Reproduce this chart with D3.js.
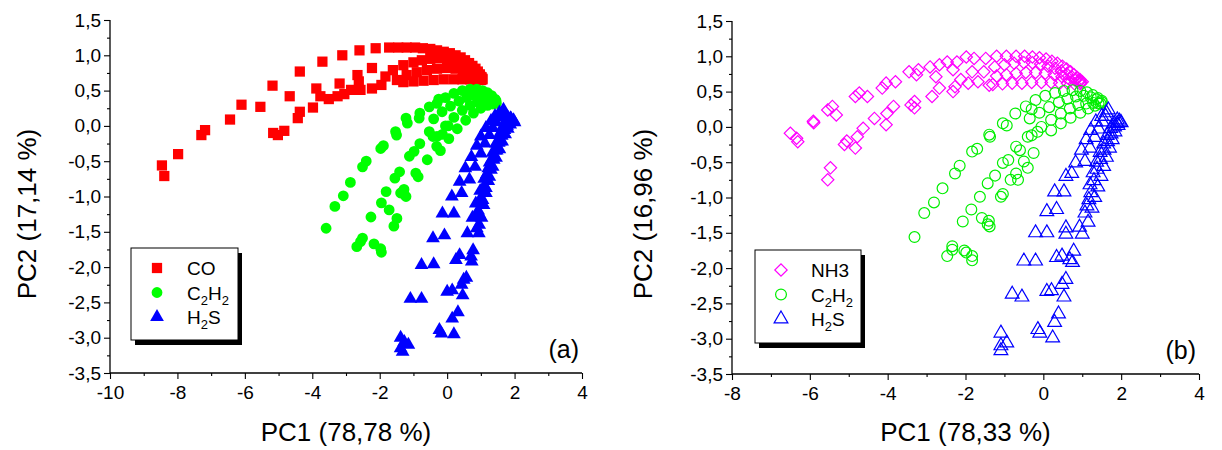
<!DOCTYPE html>
<html>
<head>
<meta charset="utf-8">
<script src="https://cdn.jsdelivr.net/npm/d3@7"></script>
<style>
  body { margin: 0; background: #fff; }
  svg { display: block; }
  text { font-family: Arial, "Liberation Sans", sans-serif; fill: #000; }
</style>
</head>
<body>
<svg id="chart" width="1222" height="450"></svg>
<script>
// ---- Score data (PC1, PC2) ----
// Panel (a): CO
const coScores = [
  [-8.46,-0.56],[-8.39,-0.71],[-7.98,-0.40],[-7.29,-0.13],[-7.18,-0.06],[-6.44,0.09],[-6.10,0.30],
  [-5.54,0.27],[-5.18,0.57],[-4.67,0.42],[-5.16,-0.10],[-5.02,-0.13],[-4.83,-0.07],[-4.37,0.77],
  [-4.43,0.11],[-4.37,0.20],[-3.98,0.26],[-3.88,0.53],[-3.76,0.42],[-3.70,0.91],[-3.51,0.38],
  [-3.25,0.42],[-3.11,1.00],[-3.19,0.60],[-3.05,0.45],[-2.85,0.51],[-2.60,1.07],[-2.66,0.72],
  [-2.62,0.63],[-2.57,0.51],[-2.23,0.53],[-2.23,0.82],[-2.12,1.10],[-1.95,0.58],[-1.83,0.70],
  [-1.72,1.11],[-1.61,0.79],[-1.49,0.65],
  [-1.45,1.11],[-1.20,1.11],[-0.95,1.11],[-0.72,1.10],[-0.50,1.09],[-0.30,1.07],[-0.10,1.05],
  [0.08,1.03],[0.25,1.00],[0.40,0.97],[0.53,0.93],[0.65,0.89],[0.75,0.85],[0.84,0.81],[0.91,0.77],
  [0.97,0.73],[1.02,0.69],[1.05,0.66],
  [-1.30,0.86],[-1.00,0.90],[-0.75,0.93],[-0.50,0.95],[-0.25,0.96],[0.00,0.95],[0.20,0.93],
  [0.38,0.90],[0.54,0.86],[0.68,0.82],[0.80,0.78],[0.90,0.74],[0.98,0.70],[1.04,0.67],
  [-1.20,0.72],[-0.90,0.76],[-0.60,0.79],[-0.30,0.81],[0.00,0.82],[0.25,0.81],[0.47,0.79],
  [0.66,0.76],[0.82,0.72],[0.95,0.69],[1.03,0.66],
  [-1.30,0.62],[-1.00,0.63],[-0.70,0.64],[-0.40,0.65],[-0.10,0.66],[0.20,0.66],[0.45,0.66],
  [0.68,0.66],[0.87,0.65],[1.00,0.65]
];
// Panel (a): C2H2
const c2h2ScoresA = [
  [-3.59,-1.45],[-3.33,-1.14],[-3.08,-0.99],[-2.87,-0.80],[-2.51,-0.58],[-2.40,-0.50],[-1.97,-0.32],
  [-1.89,-0.28],[-1.53,-0.08],[-1.50,-0.13],[-1.22,0.11],[-1.18,0.04],[-0.81,0.18],[-0.83,0.11],
  [-0.53,0.27],[-0.25,0.38],
  [-2.68,-1.71],[-2.57,-1.64],[-2.51,-1.59],[-2.26,-1.29],[-1.95,-1.09],[-1.81,-0.93],[-1.55,-0.74],
  [-1.41,-0.65],[-1.12,-0.43],[-0.98,-0.36],[-0.81,-0.25],[-0.53,-0.08],[-0.42,-0.15],
  [-2.17,-1.67],[-1.97,-1.74],[-1.95,-1.79],[-1.58,-1.42],[-1.72,-1.19],[-1.49,-1.31],[-1.38,-0.95],
  [-1.28,-0.90],[-1.22,-1.00],[-0.93,-0.67],[-0.86,-0.72],[-0.59,-0.48],[-0.31,-0.29],[-0.14,-0.12],
  [0.03,0.00],
  [-0.30,0.32],[-0.05,0.40],[0.20,0.46],[0.45,0.50],[0.68,0.52],[0.88,0.52],[1.05,0.50],[1.20,0.47],
  [1.32,0.43],[1.42,0.38],
  [-0.40,0.10],[-0.15,0.20],[0.10,0.28],[0.35,0.35],[0.58,0.40],[0.80,0.43],[1.00,0.44],[1.18,0.43],
  [1.33,0.40],[1.45,0.36],
  [-0.30,-0.15],[-0.05,0.00],[0.20,0.12],[0.45,0.22],[0.68,0.29],[0.90,0.34],[1.10,0.36],[1.28,0.36],
  [1.42,0.34],
  [-0.20,-0.35],[0.05,-0.18],[0.30,-0.04],[0.55,0.08],[0.78,0.18],[1.00,0.25],[1.20,0.29],[1.36,0.31],
  [1.46,0.32]
];
// Panel (a): H2S
const h2sScoresA = [
  [-1.38,-3.00],[-1.27,-3.06],[-1.15,-3.10],[-1.38,-3.15],[-1.32,-3.20],[-1.09,-2.45],[-0.76,-2.45],
  [-0.76,-1.97],[-0.40,-1.96],[-0.42,-1.59],[-0.08,-1.55],[-0.14,-1.24],[0.20,-1.24],[0.14,-1.00],
  [0.43,-0.95],[0.37,-0.79],[0.66,-0.76],[0.54,-0.60],[0.83,-0.58],[0.72,-0.44],[1.00,-0.39],
  [0.88,-0.28],[1.12,-0.25],[1.00,-0.15],[1.25,-0.13],[1.15,-0.03],[1.35,-0.03],[1.30,0.07],
  [1.45,0.05],[1.42,0.14],[1.55,0.12],[1.55,0.19],[1.62,0.17],[1.67,0.23],
  [-0.23,-2.89],[-0.17,-2.94],[0.20,-2.95],[0.15,-2.73],[0.32,-2.64],[0.00,-2.35],[0.15,-2.33],
  [0.46,-2.40],[0.43,-2.25],[0.49,-2.18],[0.57,-2.15],[0.26,-1.90],[0.37,-1.83],[0.73,-1.92],
  [0.71,-1.85],[0.77,-1.76],[0.60,-1.52],[0.88,-1.45],[0.94,-1.52],[0.75,-1.30],[0.95,-1.25],
  [0.85,-1.10],[1.05,-1.05],[0.98,-0.92],[1.15,-0.88],[1.10,-0.75],[1.25,-0.72],[1.22,-0.60],
  [1.35,-0.58],[1.33,-0.47],[1.45,-0.45],[1.43,-0.35],[1.55,-0.33],[1.53,-0.24],[1.63,-0.22],
  [1.62,-0.14],[1.72,-0.12],[1.70,-0.06],[1.80,-0.04],[1.78,0.00],[1.87,0.02],[1.85,0.06],
  [1.93,0.06],[1.90,0.10],[1.97,0.08],[2.00,0.05],
  [0.95,-1.40],[1.02,-1.30],[0.92,-1.20],[1.08,-1.12],[1.00,-1.02],[1.15,-0.95],[1.10,-0.85],
  [1.22,-0.78],[1.18,-0.68],[1.30,-0.62],[1.26,-0.52],[1.38,-0.48],[1.35,-0.38],[1.47,-0.35],
  [1.45,-0.25],[1.56,-0.22],[1.55,-0.12],[1.65,-0.10],[1.64,-0.02],[1.74,0.00],[1.73,0.07],
  [1.82,0.07],[1.80,0.12],[1.88,0.11]
];
// Panel (b): NH3
const nh3Scores = [
  [-6.50,-0.09],[-6.34,-0.16],[-6.31,-0.21],[-5.91,0.08],[-5.90,0.06],[-5.54,0.24],[-5.42,0.29],
  [-5.32,0.17],[-5.54,-0.75],[-5.47,-0.58],[-4.83,0.43],[-4.73,0.48],[-4.52,0.43],[-5.11,-0.25],
  [-5.05,-0.20],[-4.83,-0.30],[-4.78,-0.14],[-4.63,-0.02],[-4.34,0.12],[-4.02,0.19],[-4.04,0.03],
  [-3.85,0.29],[-4.14,0.55],[-4.04,0.62],[-3.80,0.64],[-3.45,0.78],[-3.26,0.74],[-3.21,0.81],
  [-3.40,0.31],[-3.31,0.36],[-3.31,0.27],[-2.91,0.85],[-2.76,0.71],[-2.67,0.88],[-2.86,0.43],
  [-2.67,0.55],[-2.47,0.92],[-2.22,0.92],[-2.32,0.81],[-2.12,0.67],[-2.27,0.57],[-2.32,0.50],
  [-1.98,0.99],[-1.78,0.97],[-1.83,0.78],[-1.68,0.64],[-1.93,0.62],[-1.48,0.97],[-1.53,0.78],
  [-1.39,0.59],
  [-1.20,1.00],[-0.95,1.00],[-0.70,1.00],[-0.48,1.00],[-0.28,0.99],[-0.10,0.98],[0.07,0.96],
  [0.22,0.93],[0.36,0.90],[0.49,0.86],[0.60,0.82],[0.70,0.78],[0.79,0.74],[0.87,0.70],[0.94,0.67],
  [1.00,0.64],
  [-1.25,0.85],[-1.00,0.88],[-0.75,0.90],[-0.50,0.91],[-0.28,0.91],[-0.07,0.89],[0.12,0.86],
  [0.30,0.83],[0.46,0.79],[0.60,0.75],[0.73,0.71],[0.84,0.68],[0.94,0.65],
  [-1.20,0.72],[-0.95,0.74],[-0.70,0.76],[-0.45,0.77],[-0.20,0.77],[0.05,0.76],[0.28,0.74],
  [0.48,0.71],[0.66,0.68],[0.82,0.66],[0.96,0.63],
  [-1.30,0.60],[-1.05,0.61],[-0.80,0.62],[-0.55,0.62],[-0.30,0.63],[-0.05,0.63],[0.20,0.63],
  [0.42,0.62],[0.62,0.62],[0.80,0.61],[0.95,0.61]
];
// Panel (b): C2H2
const c2h2ScoresB = [
  [-3.31,-1.56],[-3.06,-1.22],[-2.81,-1.07],[-2.59,-0.87],[-2.27,-0.66],[-2.15,-0.55],[-1.83,-0.35],
  [-1.70,-0.31],[-1.39,-0.11],[-1.37,-0.14],[-1.04,0.05],[-0.94,0.02],[-0.72,0.19],[-0.45,0.29],
  [-0.30,0.25],
  [-2.47,-1.83],[-2.34,-1.74],[-2.34,-1.69],[-2.07,-1.34],[-1.85,-1.17],[-1.63,-0.99],[-1.43,-0.80],
  [-1.24,-0.69],[-1.04,-0.51],[-0.90,-0.47],[-0.70,-0.28],[-0.60,-0.33],[-0.40,-0.14],[-0.15,-0.07],
  [-2.03,-1.75],[-1.98,-1.78],[-1.83,-1.83],[-1.83,-1.89],[-1.58,-1.29],[-1.40,-1.33],[-1.43,-1.38],
  [-1.38,-1.41],[-1.09,-0.99],[-1.04,-0.95],[-0.84,-0.75],[-0.70,-0.66],[-0.65,-0.75],[-0.40,-0.58],
  [-0.50,-0.49],[-0.25,-0.37],
  [-0.20,0.38],[0.05,0.44],[0.30,0.48],[0.53,0.51],[0.75,0.52],[0.95,0.51],[1.12,0.49],[1.27,0.45],
  [1.40,0.41],[1.50,0.37],
  [-0.35,0.12],[-0.10,0.20],[0.15,0.28],[0.40,0.35],[0.62,0.40],[0.84,0.43],[1.04,0.44],[1.22,0.42],
  [1.37,0.39],[1.50,0.35],
  [-0.30,-0.12],[-0.05,0.00],[0.20,0.10],[0.45,0.19],[0.68,0.26],[0.90,0.31],[1.10,0.33],[1.28,0.34],
  [1.42,0.33],
  [0.20,-0.05],[0.45,0.05],[0.70,0.13],[0.95,0.20],[1.15,0.26],[1.33,0.30],[1.47,0.33]
];
// Panel (b): H2S
const h2sScoresB = [
  [-1.09,-2.92],[-0.94,-3.06],[-1.09,-3.10],[-1.09,-3.17],[-0.80,-2.37],[-0.55,-2.41],[-0.50,-1.90],
  [-0.20,-1.90],[-0.20,-1.50],[0.09,-1.50],[0.09,-1.20],[0.34,-1.17],[0.29,-0.92],[0.53,-0.92],
  [0.58,-0.70],[0.73,-0.66],[0.83,-0.51],[1.07,-0.49],[0.98,-0.33],[1.20,-0.30],[1.10,-0.18],
  [1.32,-0.15],[1.22,-0.05],[1.42,-0.03],[1.35,0.07],[1.52,0.07],[1.50,0.15],[1.60,0.15],
  [1.62,0.20],[1.67,0.24],
  [-0.14,-2.87],[-0.09,-2.92],[0.24,-2.99],[0.29,-2.77],[0.39,-2.65],[0.09,-2.33],[0.21,-2.32],
  [0.53,-2.41],[0.48,-2.23],[0.58,-2.16],[0.34,-1.85],[0.48,-1.83],[0.68,-1.88],[0.78,-1.76],
  [0.75,-1.92],[0.58,-1.43],[0.58,-1.52],[0.93,-1.42],[1.00,-1.52],[1.07,-1.22],[1.17,-1.03],
  [1.12,-1.12],[1.22,-0.93],[1.20,-0.82],[1.30,-0.76],[1.28,-0.65],[1.38,-0.60],[1.37,-0.50],
  [1.47,-0.46],[1.46,-0.36],[1.56,-0.33],[1.55,-0.24],[1.65,-0.21],[1.64,-0.12],[1.74,-0.10],
  [1.73,-0.02],[1.83,0.00],[1.82,0.05],[1.90,0.05],[1.90,0.10],[1.96,0.08],[2.00,0.06],
  [1.15,-1.35],[1.25,-1.15],[1.32,-1.00],[1.40,-0.85],[1.48,-0.70],[1.55,-0.56],[1.62,-0.43],
  [1.70,-0.30],[1.77,-0.18],[1.84,-0.07],[1.92,0.02]
];

// ---- Axis ticks and labels ----
const xTicksA = [-10, -8, -6, -4, -2, 0, 2, 4];
const xTicksB = [-8, -6, -4, -2, 0, 2, 4];
const yTicks = [-3.5, -3.0, -2.5, -2.0, -1.5, -1.0, -0.5, 0.0, 0.5, 1.0, 1.5];
const yTickLabels = ["-3,5", "-3,0", "-2,5", "-2,0", "-1,5", "-1,0", "-0,5", "0,0", "0,5", "1,0", "1,5"];
const legendLabelsA = ["CO", "C_2H_2", "H_2S"];
const legendLabelsB = ["NH3", "C_2H_2", "H_2S"];

// ---- Layout ----
const svg = d3.select("#chart");

const panels = [
  {
    left: 110, right: 582, top: 20, bottom: 373,
    xDomain: [-10, 4], xTicks: xTicksA,
    xTitle: "PC1 (78,78 %)",
    yTitle: "PC2 (17,14 %)", yTitleX: 36,
    tag: "(a)",
    legend: { x: 131, y: 248, w: 107, h: 92, labels: legendLabelsA },
    series: [
      { data: coScores, shape: "square", color: "#ff0000", filled: true },
      { data: c2h2ScoresA, shape: "circle", color: "#00ff00", filled: true },
      { data: h2sScoresA, shape: "triangle", color: "#0000ff", filled: true }
    ]
  },
  {
    left: 732, right: 1199, top: 21, bottom: 374,
    xDomain: [-8, 4], xTicks: xTicksB,
    xTitle: "PC1 (78,33 %)",
    yTitle: "PC2 (16,96 %)", yTitleX: 652,
    tag: "(b)",
    legend: { x: 755, y: 250, w: 106, h: 93, labels: legendLabelsB },
    series: [
      { data: nh3Scores, shape: "diamond", color: "#ff00ff", filled: false },
      { data: c2h2ScoresB, shape: "circle", color: "#00ee00", filled: false },
      { data: h2sScoresB, shape: "triangle", color: "#0000ff", filled: false }
    ]
  }
];

const symbolType = {
  square: d3.symbolSquare,
  circle: d3.symbolCircle,
  triangle: d3.symbolTriangle,
  diamond: d3.symbolSquare
};
const symbolSize = { square: 105, circle: 92, triangle: 82, diamond: 76 };

function markerPath(shape) {
  return d3.symbol().type(symbolType[shape]).size(symbolSize[shape])();
}

function applyMarkerStyle(sel, s) {
  sel.attr("d", markerPath(s.shape))
    .attr("fill", s.filled ? s.color : "none")
    .attr("stroke", s.filled ? "none" : s.color)
    .attr("stroke-width", s.filled ? 0 : 1.2);
}

// label text with "_n" marking a subscript character
function addRichText(textSel, label) {
  const parts = [];
  for (let i = 0; i < label.length; i++) {
    if (label[i] === "_") { parts.push({ t: label[i + 1], sub: true }); i++; }
    else parts.push({ t: label[i], sub: false });
  }
  let prevSub = false;
  parts.forEach(p => {
    const ts = textSel.append("tspan").text(p.t);
    if (p.sub && !prevSub) ts.attr("dy", 5).attr("font-size", 13);
    else if (p.sub) ts.attr("font-size", 13);
    else if (!p.sub && prevSub) ts.attr("dy", -5);
    prevSub = p.sub;
  });
}

panels.forEach(p => {
  const x = d3.scaleLinear().domain(p.xDomain).range([p.left, p.right]);
  const y = d3.scaleLinear().domain([-3.5, 1.5]).range([p.bottom, p.top]);
  const g = svg.append("g");

  // markers
  p.series.forEach(s => {
    const t = s.shape === "diamond" ? " rotate(45)" : "";
    g.append("g").selectAll("path").data(s.data).join("path")
      .call(applyMarkerStyle, s)
      .attr("transform", d => `translate(${x(d[0])},${y(d[1])})${t}`);
  });

  // minor ticks halfway between majors
  const xMinor = d3.pairs(p.xTicks).map(([a, b]) => (a + b) / 2);
  const yMinor = d3.pairs(yTicks).map(([a, b]) => (a + b) / 2);

  // x axis
  const xAxis = d3.axisBottom(x).tickValues(p.xTicks).tickSize(6).tickPadding(7)
    .tickFormat(d => String(d));
  const gx = g.append("g").attr("transform", `translate(0,${p.bottom})`).call(xAxis);
  g.append("g").attr("transform", `translate(0,${p.bottom})`)
    .call(d3.axisBottom(x).tickValues(xMinor).tickSize(3).tickFormat(""))
    .select(".domain").remove();

  // y axis
  const yAxis = d3.axisLeft(y).tickValues(yTicks).tickSize(6).tickPadding(3)
    .tickFormat((d, i) => yTickLabels[i]);
  const gy = g.append("g").attr("transform", `translate(${p.left},0)`).call(yAxis);
  g.append("g").attr("transform", `translate(${p.left},0)`)
    .call(d3.axisLeft(y).tickValues(yMinor).tickSize(3).tickFormat(""))
    .select(".domain").remove();

  g.selectAll(".domain").attr("stroke", "#000").attr("stroke-width", 1.3);
  gx.select(".domain").attr("d", `M${p.left},0H${p.right}`);
  gy.select(".domain").attr("d", `M0,${p.bottom}V${p.top}`);
  g.selectAll(".tick line").attr("stroke", "#000").attr("stroke-width", 1.1);
  g.selectAll(".tick text").attr("font-size", 19)
    .attr("font-family", "Arial, 'Liberation Sans', sans-serif").attr("fill", "#000");

  // axis titles
  g.append("text").attr("x", (p.left + p.right) / 2).attr("y", 441)
    .attr("text-anchor", "middle").attr("font-size", 26).text(p.xTitle);
  g.append("text").attr("transform", `translate(${p.yTitleX},214) rotate(-90)`)
    .attr("text-anchor", "middle").attr("font-size", 26).text(p.yTitle);

  // panel tag
  g.append("text").attr("x", p.right - 3).attr("y", p.bottom - 15)
    .attr("text-anchor", "end").attr("font-size", 25).text(p.tag);

  // legend with drop shadow
  const L = p.legend;
  const lg = g.append("g");
  lg.append("rect").attr("x", L.x + 4).attr("y", L.y + 5).attr("width", L.w).attr("height", L.h).attr("fill", "#000");
  lg.append("rect").attr("x", L.x).attr("y", L.y).attr("width", L.w).attr("height", L.h)
    .attr("fill", "#fff").attr("stroke", "#000").attr("stroke-width", 1);
  p.series.forEach((s, i) => {
    const cy = L.y + 20 + i * 24.5;
    const t = s.shape === "diamond" ? " rotate(45)" : "";
    lg.append("path").call(applyMarkerStyle, s)
      .attr("transform", `translate(${L.x + 26},${cy})${t}`);
    const txt = lg.append("text").attr("x", L.x + 56).attr("y", cy + 7).attr("font-size", 19);
    addRichText(txt, L.labels[i]);
  });
});
</script>
</body>
</html>
